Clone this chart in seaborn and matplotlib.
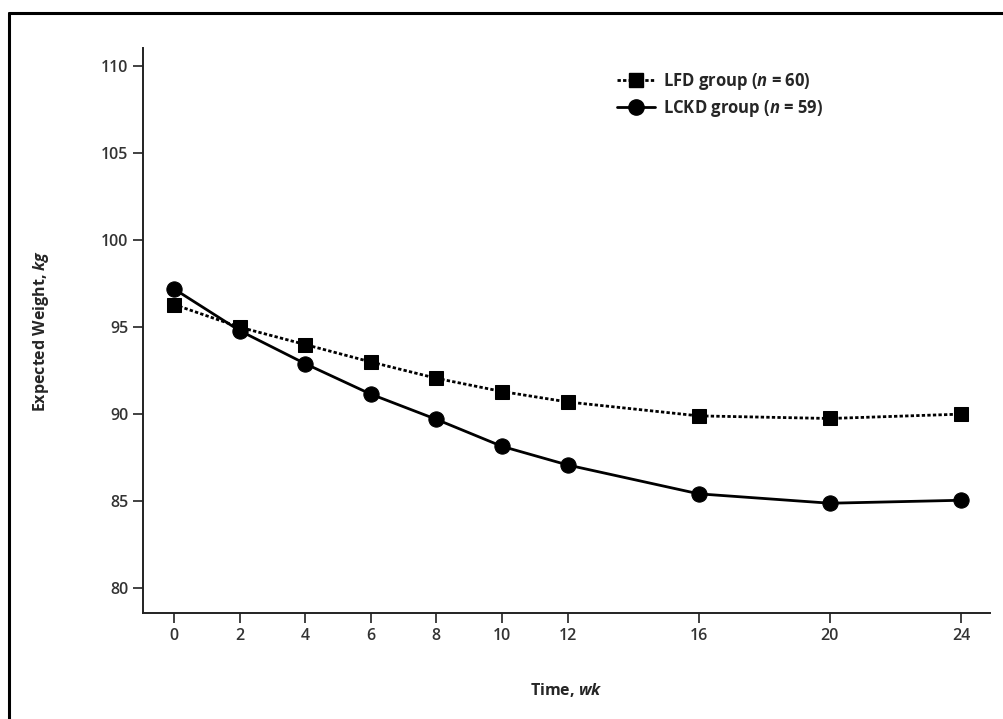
import numpy as np
import pandas as pd
import matplotlib
matplotlib.use("Agg")
import matplotlib.pyplot as plt
from matplotlib.lines import Line2D
import seaborn as sns

WEEKS = [0, 2, 4, 6, 8, 10, 12, 16, 20, 24]
LFD_WEIGHT = [96.3, 95.0, 94.0, 93.0, 92.06, 91.3, 90.7, 89.9, 89.75, 90.0]
LCKD_WEIGHT = [97.2, 94.8, 92.9, 91.15, 89.7, 88.15, 87.08, 85.42, 84.88, 85.05]
LFD_LABEL = "LFD group ($\\mathit{n}$ = 60)"
LCKD_LABEL = "LCKD group ($\\mathit{n}$ = 59)"
Y_TICKS = [80, 85, 90, 95, 100, 105, 110]


def main() -> None:
    sns.set_theme(style="ticks")
    plt.rcParams["font.family"] = ["Open Sans", "DejaVu Sans"]
    plt.rcParams["mathtext.fontset"] = "custom"
    plt.rcParams["mathtext.it"] = "Open Sans:italic:bold"
    plt.rcParams["mathtext.rm"] = "Open Sans:bold"

    df = pd.DataFrame({
        "week": WEEKS * 2,
        "weight": LFD_WEIGHT + LCKD_WEIGHT,
        "group": ["LFD"] * len(WEEKS) + ["LCKD"] * len(WEEKS),
    })

    fig = plt.figure(figsize=(10.04, 7.19), dpi=100)
    ax = fig.add_axes([0.1424, 0.1474, 0.8436, 0.7858])

    sns.lineplot(data=df[df["group"] == "LFD"], x="week", y="weight", ax=ax,
                 color="black", marker="s", markersize=10, linewidth=2.0,
                 linestyle=(0, (1.2, 0.8)), markeredgecolor="black", legend=False)
    sns.lineplot(data=df[df["group"] == "LCKD"], x="week", y="weight", ax=ax,
                 color="black", marker="o", markersize=11, linewidth=2.0,
                 linestyle="-", markeredgecolor="black", legend=False)

    ax.set_xlim(-0.945, 24.88)
    ax.set_ylim(78.57, 111.04)
    ax.set_xticks(WEEKS)
    ax.set_yticks(Y_TICKS)
    ax.tick_params(axis="both", direction="out", length=7, width=1.3,
                   color="#333333", labelcolor="#333333", labelsize=11.5)
    for label in ax.get_xticklabels() + ax.get_yticklabels():
        label.set_fontweight("semibold")
    for side in ["top", "right"]:
        ax.spines[side].set_visible(False)
    for side in ["left", "bottom"]:
        ax.spines[side].set_linewidth(1.4)
        ax.spines[side].set_color("#222222")

    ax.set_xlabel("Time, $\\mathit{wk}$", fontsize=11.5, fontweight="bold", labelpad=27)
    ax.set_ylabel("Expected Weight, $\\mathit{kg}$", fontsize=11.5, fontweight="bold", labelpad=36)

    handles = [
        Line2D([], [], color="black", marker="s", markersize=10, linewidth=2.0,
               linestyle=(0, (1.2, 0.8))),
        Line2D([], [], color="black", marker="o", markersize=11, linewidth=2.0),
    ]
    ax.legend(handles, [LFD_LABEL, LCKD_LABEL], loc="upper left",
              bbox_to_anchor=(0.552, 0.972), frameon=False, handlelength=2.3,
              handletextpad=0.45, labelspacing=0.4, borderaxespad=0,
              prop={"weight": "bold", "size": 12})

    # frame of the original figure panel (top and left edges)
    fig.add_artist(Line2D([9 / 1004, 1.0], [1 - 13 / 719, 1 - 13 / 719],
                          color="black", linewidth=2.2, transform=fig.transFigure))
    fig.add_artist(Line2D([9 / 1004, 9 / 1004], [0.0, 1 - 13 / 719],
                          color="black", linewidth=2.2, transform=fig.transFigure))

    fig.savefig("out.png", dpi=100, facecolor="white")
    plt.close(fig)


if __name__ == "__main__":
    main()
